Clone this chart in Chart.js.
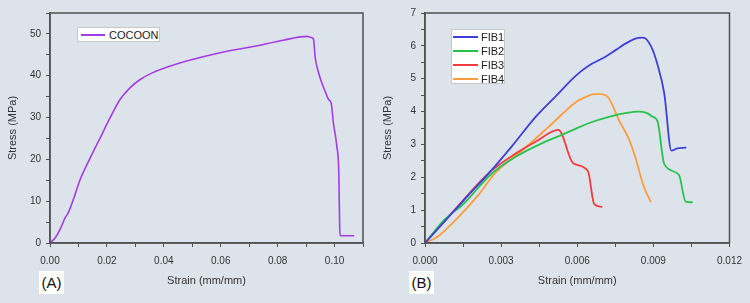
<!DOCTYPE html>
<html lang="en">
<head>
  <meta charset="UTF-8">
  <title>Stress-Strain Curves</title>
  <script src="https://cdn.jsdelivr.net/npm/chart.js"></script>
  <style>
    body { margin: 0; padding: 0; background: #dde3ea; font-family: 'Liberation Sans', Arial, sans-serif; }
    #wrap { position: relative; width: 750px; height: 303px; overflow: hidden; }
    canvas { position: absolute; top: 0; }
    .legend { position: absolute; background: #fff; border: 1px solid #c8c8c8; box-sizing: border-box; }
    .item { position: absolute; left: 0; height: 14px; }
    .item .sw { position: absolute; top: 6px; height: 2px; }
    .item span { position: absolute; top: 0; font-size: 11px; line-height: 14px; color: #222; white-space: nowrap; }
    .tag { position: absolute; background: #fff; font-size: 15px; line-height: 23px; text-align: center; color: #111; width: 25px; height: 23px; }
  </style>
</head>
<body>
<div id="wrap">
  <canvas id="chartA" width="375" height="303" style="left:0"></canvas>
  <canvas id="chartB" width="375" height="303" style="left:375px"></canvas>

  <div class="legend" style="left:77px; top:27px; width:83px; height:15px;">
    <div class="item" style="top:0"><div class="sw" style="left:3px; width:24px; background:#a43ce6"></div><span style="left:31px">COCOON</span></div>
  </div>

  <div class="legend" id="legendB" style="left:451px; top:29px; width:54px; height:55px;"></div>

  <div class="tag" style="left:39px; top:271px;">(A)</div>
  <div class="tag" style="left:409px; top:271px;">(B)</div>
</div>

<script>
  // panel A: cocoon
  const cocoonStrain = [0, 0.0018, 0.0035, 0.0053, 0.0064, 0.0082, 0.0106, 0.0141, 0.0176, 0.0211, 0.0246, 0.0281, 0.0317, 0.0363, 0.041, 0.048, 0.0598, 0.0715, 0.082, 0.0903, 0.0914, 0.0926, 0.0932, 0.0944, 0.0955, 0.0967, 0.0979, 0.0988, 0.0996, 0.1008, 0.1015, 0.1018, 0.102, 0.1067];
  const cocoonStress = [0, 1.2, 3.2, 6.0, 7.2, 10.4, 15.2, 20.3, 25.1, 29.9, 34.3, 37.1, 39.1, 40.8, 42.0, 43.5, 45.5, 47.0, 48.5, 49.4, 49.2, 48.8, 44.3, 40.7, 38.3, 36.3, 34.3, 33.5, 28.7, 23.1, 16.7, 4.0, 1.75, 1.75];

  // panel B: fibres
  const fib1Strain = [0, 0.00154, 0.00257, 0.00346, 0.00436, 0.00513, 0.00597, 0.00648, 0.00700, 0.00751, 0.00802, 0.00840, 0.00860, 0.00892, 0.00917, 0.00943, 0.00971, 0.00994, 0.01027];
  const fib1Stress = [0, 1.31, 2.17, 2.98, 3.84, 4.45, 5.11, 5.41, 5.62, 5.87, 6.12, 6.24, 6.25, 5.97, 5.41, 4.55, 2.81, 2.88, 2.90];

  const fib2Strain = [0, 0.00077, 0.00154, 0.00257, 0.00359, 0.00462, 0.00539, 0.00597, 0.00661, 0.00725, 0.00789, 0.00840, 0.00873, 0.00898, 0.00917, 0.00943, 0.01001, 0.01027, 0.01052];
  const fib2Stress = [0, 0.71, 1.21, 2.07, 2.63, 3.04, 3.29, 3.49, 3.69, 3.84, 3.95, 4.00, 3.96, 3.84, 3.69, 2.40, 2.07, 1.26, 1.24];

  const fib3Strain = [0, 0.00128, 0.00257, 0.00359, 0.00436, 0.00526, 0.00584, 0.00642, 0.00667, 0.00696];
  const fib3Stress = [0, 1.11, 2.17, 2.73, 3.08, 3.44, 2.43, 2.19, 1.18, 1.10];

  const fib4Strain = [0, 0.00051, 0.00128, 0.00205, 0.00282, 0.00385, 0.00488, 0.00597, 0.00635, 0.00667, 0.00693, 0.00725, 0.00764, 0.00802, 0.00828, 0.00860, 0.00889];
  const fib4Stress = [0, 0.2, 0.76, 1.41, 2.17, 2.83, 3.54, 4.30, 4.45, 4.53, 4.53, 4.40, 3.74, 3.19, 2.63, 1.77, 1.26];

  const fibNames = ['FIB1', 'FIB2', 'FIB3', 'FIB4'];
  const fibColors = ['#3f3fdc', '#27c24c', '#f23c3c', '#ff9d3d'];

  const toPts = (xs, ys) => xs.map((x, i) => ({ x: x, y: ys[i] }));

  const axisColor = '#505050';
  const tickFont = { family: "'Liberation Sans', Arial, sans-serif", size: 10 };
  const titleFont = { family: "'Liberation Sans', Arial, sans-serif", size: 11 };

  const boxPlugin = {
    id: 'box',
    afterDraw(chart) {
      const a = chart.chartArea, c = chart.ctx;
      c.save();
      c.strokeStyle = axisColor;
      c.lineWidth = 1.5;
      c.strokeRect(a.left, a.top, a.right - a.left, a.bottom - a.top);
      c.restore();
    }
  };

  function makeOptions(xCfg, yCfg, padRight) {
    return {
      responsive: false,
      animation: false,
      devicePixelRatio: 1,
      layout: { padding: { top: 13, right: padRight, left: 0, bottom: 0 } },
      plugins: { legend: { display: false }, tooltip: { enabled: false } },
      elements: { point: { radius: 0 }, line: { cubicInterpolationMode: 'monotone', borderCapStyle: 'round', borderJoinStyle: 'round' } },
      scales: {
        x: {
          type: 'linear', min: 0, max: xCfg.max,
          afterFit: s => { s.height = 60; },
          border: { display: true, color: axisColor, width: 1.5 },
          grid: { drawOnChartArea: false, drawTicks: true, tickLength: 4, color: axisColor },
          ticks: { stepSize: xCfg.step, autoSkip: false, maxRotation: 0, padding: 8, color: '#333', font: tickFont, callback: xCfg.label },
          title: { display: true, text: 'Strain (mm/mm)', color: '#333', font: titleFont, padding: { top: 0, bottom: 15 } }
        },
        y: {
          type: 'linear', min: 0, max: yCfg.max,
          afterFit: s => { s.width = 50; },
          border: { display: true, color: axisColor, width: 1.5 },
          grid: { drawOnChartArea: false, drawTicks: true, tickLength: 4, color: axisColor },
          ticks: { stepSize: yCfg.step, autoSkip: false, padding: 5, color: '#333', font: tickFont, callback: yCfg.label },
          title: { display: true, text: 'Stress (MPa)', color: '#333', font: titleFont, padding: { top: 6, bottom: 0 } }
        }
      }
    };
  }

  new Chart(document.getElementById('chartA'), {
    type: 'line',
    data: {
      datasets: [{ label: 'COCOON', data: toPts(cocoonStrain, cocoonStress), borderColor: '#a43ce6', borderWidth: 1.6, fill: false }]
    },
    options: makeOptions(
      { max: 0.11, step: 0.01, label: v => { const n = Math.round(v * 100); return (n % 2 === 0 && n <= 10) ? (n / 100).toFixed(2) : ''; } },
      { max: 55, step: 5, label: v => (Math.round(v) % 10 === 0 ? String(Math.round(v)) : '') },
      12
    ),
    plugins: [boxPlugin]
  });

  const fibStrains = [fib1Strain, fib2Strain, fib3Strain, fib4Strain];
  const fibStresses = [fib1Stress, fib2Stress, fib3Stress, fib4Stress];

  new Chart(document.getElementById('chartB'), {
    type: 'line',
    data: {
      datasets: fibNames.map((name, i) => ({
        label: name, data: toPts(fibStrains[i], fibStresses[i]), borderColor: fibColors[i], borderWidth: 1.8, fill: false
      }))
    },
    options: makeOptions(
      { max: 0.012, step: 0.0015, label: v => { const n = Math.round(v / 0.0015); return n % 2 === 0 ? (n * 0.0015).toFixed(3) : ''; } },
      { max: 7, step: 0.5, label: v => (Math.abs(v - Math.round(v)) < 1e-6 ? String(Math.round(v)) : '') },
      13
    ),
    plugins: [boxPlugin]
  });

  // html legend for panel B
  const legendB = document.getElementById('legendB');
  fibNames.forEach((name, i) => {
    const d = document.createElement('div');
    d.className = 'item';
    d.style.top = (i * 14) + 'px';
    d.innerHTML = `<div class="sw" style="left:1px; width:25px; background:${fibColors[i]}"></div><span style="left:29px">${name}</span>`;
    legendB.appendChild(d);
  });
</script>
</body>
</html>
